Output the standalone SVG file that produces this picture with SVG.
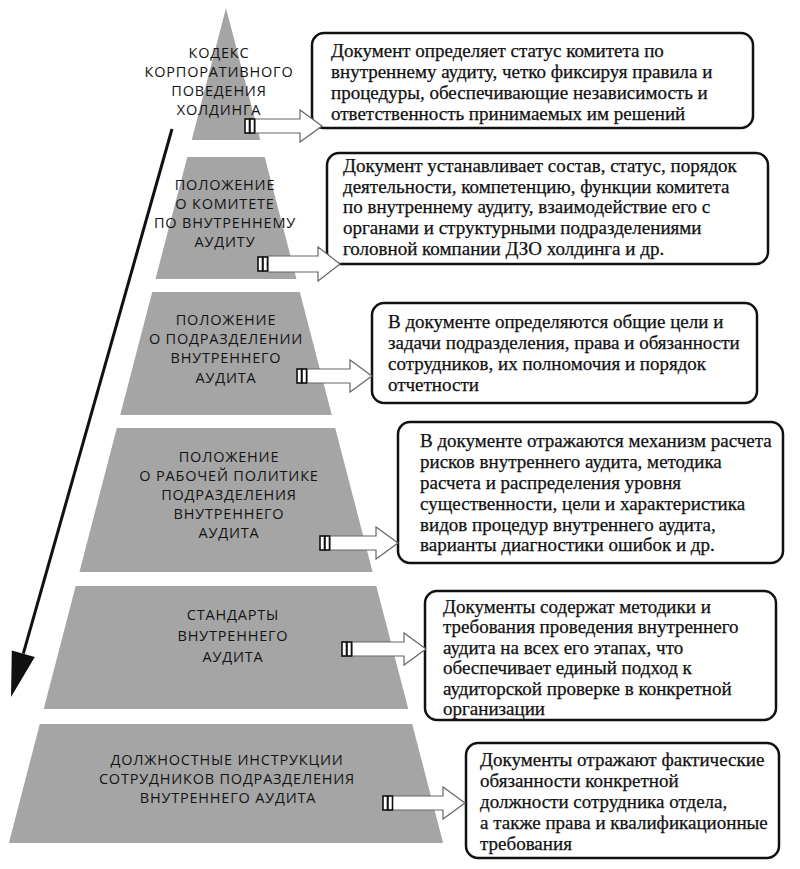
<svg xmlns="http://www.w3.org/2000/svg" width="800" height="869" viewBox="0 0 800 869">
<style>
.seg{fill:#a5a5a5}
.lbl{font-family:"Open Sans","DejaVu Sans",sans-serif;font-size:14.5px;fill:#141414;text-anchor:middle;letter-spacing:0.8px}
.box{fill:#fff;stroke:#111;stroke-width:2.5}
.txt{font-family:"Liberation Serif","Times New Roman",serif;font-size:19px;fill:#111;stroke:#111;stroke-width:0.25}
.arr{fill:#fff;stroke:#666;stroke-width:1.2;stroke-linejoin:miter}
.bar{fill:#fff;stroke:#111;stroke-width:1.6}
</style>
<rect width="800" height="869" fill="#fff"/>

<g id="level1">
<polygon class="seg" points="226,8 260.3,140 191.7,140"/>
<text class="lbl" x="219" y="58">КОДЕКС</text>
<text class="lbl" x="219" y="77">КОРПОРАТИВНОГО</text>
<text class="lbl" x="219" y="96">ПОВЕДЕНИЯ</text>
<text class="lbl" x="219" y="115">ХОЛДИНГА</text>
</g>
<g id="level2">
<polygon class="seg" points="187.3,157 264.7,157 296.5,279 155.5,279"/>
<text class="lbl" x="225" y="190">ПОЛОЖЕНИЕ</text>
<text class="lbl" x="225" y="209">О КОМИТЕТЕ</text>
<text class="lbl" x="225" y="228">ПО ВНУТРЕННЕМУ</text>
<text class="lbl" x="225" y="247">АУДИТУ</text>
</g>
<g id="level3">
<polygon class="seg" points="152.2,292 299.8,292 331.8,415 120.2,415"/>
<text class="lbl" x="226" y="325">ПОЛОЖЕНИЕ</text>
<text class="lbl" x="226" y="344">О ПОДРАЗДЕЛЕНИИ</text>
<text class="lbl" x="226" y="363">ВНУТРЕННЕГО</text>
<text class="lbl" x="226" y="383">АУДИТА</text>
</g>
<g id="level4">
<polygon class="seg" points="116.8,428 335.2,428 372.6,572 79.4,572"/>
<text class="lbl" x="229" y="462">ПОЛОЖЕНИЕ</text>
<text class="lbl" x="229" y="481">О РАБОЧЕЙ ПОЛИТИКЕ</text>
<text class="lbl" x="229" y="500">ПОДРАЗДЕЛЕНИЯ</text>
<text class="lbl" x="229" y="519">ВНУТРЕННЕГО</text>
<text class="lbl" x="229" y="538">АУДИТА</text>
</g>
<g id="level5">
<polygon class="seg" points="75.7,586 376.3,586 408.3,709 43.7,709"/>
<text class="lbl" x="233" y="620">СТАНДАРТЫ</text>
<text class="lbl" x="233" y="641">ВНУТРЕННЕГО</text>
<text class="lbl" x="233" y="662">АУДИТА</text>
</g>
<g id="level6">
<polygon class="seg" points="39.8,724 412.2,724 443.1,843 8.9,843"/>
<text class="lbl" x="227" y="765">ДОЛЖНОСТНЫЕ ИНСТРУКЦИИ</text>
<text class="lbl" x="227" y="784">СОТРУДНИКОВ ПОДРАЗДЕЛЕНИЯ</text>
<text class="lbl" x="228" y="803">ВНУТРЕННЕГО АУДИТА</text>
</g>

<g id="desc1">
<rect class="box" x="312" y="33" width="441" height="95" rx="12"/>
<text class="txt" x="331" y="57">Документ определяет статус комитета по</text>
<text class="txt" x="331" y="78">внутреннему аудиту, четко фиксируя правила и</text>
<text class="txt" x="331" y="99">процедуры, обеспечивающие независимость и</text>
<text class="txt" x="331" y="120">ответственность принимаемых им решений</text>
</g>
<g id="desc2">
<rect class="box" x="327" y="153" width="441" height="111" rx="12"/>
<text class="txt" x="343" y="172">Документ устанавливает состав, статус, порядок</text>
<text class="txt" x="343" y="193">деятельности, компетенцию, функции комитета</text>
<text class="txt" x="343" y="213">по внутреннему аудиту, взаимодействие его с</text>
<text class="txt" x="343" y="234">органами и структурными подразделениями</text>
<text class="txt" x="343" y="255">головной компании  ДЗО холдинга и др.</text>
</g>
<g id="desc3">
<rect class="box" x="372" y="303" width="385" height="100" rx="12"/>
<text class="txt" x="388" y="328">В документе определяются общие цели и</text>
<text class="txt" x="388" y="349">задачи подразделения, права и обязанности</text>
<text class="txt" x="388" y="370">сотрудников, их полномочия и порядок</text>
<text class="txt" x="388" y="391">отчетности</text>
</g>
<g id="desc4">
<rect class="box" x="398" y="422" width="385" height="141" rx="12"/>
<text class="txt" x="420" y="447">В документе отражаются механизм расчета</text>
<text class="txt" x="420" y="468">рисков внутреннего аудита, методика</text>
<text class="txt" x="420" y="489">расчета и распределения уровня</text>
<text class="txt" x="420" y="510">существенности, цели и характеристика</text>
<text class="txt" x="420" y="531">видов процедур внутреннего аудита,</text>
<text class="txt" x="420" y="551">варианты диагностики ошибок и др.</text>
</g>
<g id="desc5">
<rect class="box" x="425" y="591" width="351" height="129" rx="12"/>
<text class="txt" x="443" y="613">Документы содержат методики и</text>
<text class="txt" x="443" y="633">требования проведения внутреннего</text>
<text class="txt" x="443" y="654">аудита на всех его этапах, что</text>
<text class="txt" x="443" y="674">обеспечивает единый подход к</text>
<text class="txt" x="443" y="695">аудиторской проверке в конкретной</text>
<text class="txt" x="443" y="715">организации</text>
</g>
<g id="desc6">
<rect class="box" x="466" y="743" width="313" height="115" rx="12"/>
<text class="txt" x="480" y="766">Документы отражают фактические</text>
<text class="txt" x="480" y="787">обязанности конкретной</text>
<text class="txt" x="480" y="808">должности сотрудника отдела,</text>
<text class="txt" x="480" y="829">а также права и квалификационные</text>
<text class="txt" x="480" y="850">требования</text>
</g>

<g id="connectors">
<line x1="172" y1="129" x2="23.3" y2="653.7" stroke="#111" stroke-width="3"/>
<polygon points="11,697 11.8,650.4 34.8,657" fill="#111"/>

<polygon class="arr" points="255,119 300,119 300,110 322,126 300,142 300,133 255,133"/>
<rect class="bar" x="245" y="119" width="4.5" height="14"/><rect class="bar" x="250" y="119" width="4.5" height="14"/>

<polygon class="arr" points="268,256 318,256 318,247 340,264 318,281 318,272 268,272"/>
<rect class="bar" x="258" y="257" width="4.5" height="14"/><rect class="bar" x="263" y="257" width="4.5" height="14"/>

<polygon class="arr" points="307,369 350,369 350,360 372,376 350,392 350,383 307,383"/>
<rect class="bar" x="297" y="369" width="4.5" height="14"/><rect class="bar" x="302" y="369" width="4.5" height="14"/>

<polygon class="arr" points="330,536 376,536 376,527 398,543 376,559 376,550 330,550"/>
<rect class="bar" x="320" y="536" width="4.5" height="14"/><rect class="bar" x="325" y="536" width="4.5" height="14"/>

<polygon class="arr" points="352,642 404,642 404,633 426,649 404,665 404,656 352,656"/>
<rect class="bar" x="342" y="642" width="4.5" height="14"/><rect class="bar" x="347" y="642" width="4.5" height="14"/>

<polygon class="arr" points="392,796 443,796 443,787 465,803 443,819 443,810 392,810"/>
<rect class="bar" x="383" y="796" width="4.5" height="14"/><rect class="bar" x="388" y="796" width="4.5" height="14"/>
</g>
</svg>
